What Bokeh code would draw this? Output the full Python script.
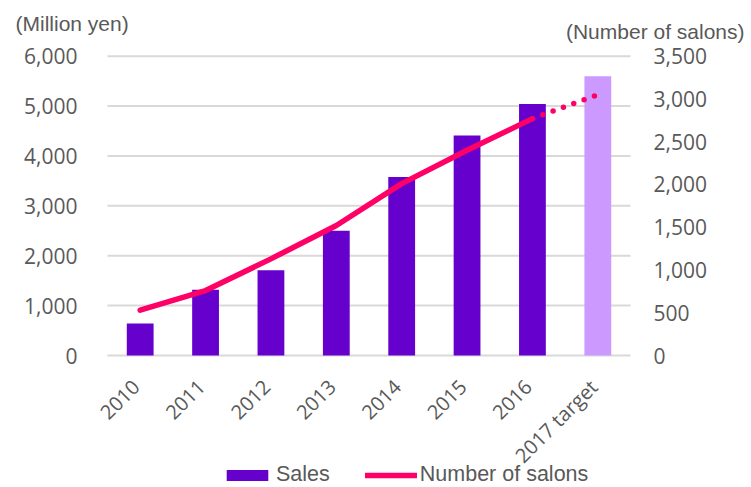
from math import pi
from bokeh.plotting import figure
from bokeh.models import (ColumnDataSource, Range1d, Label, Legend, LegendItem)
from bokeh.embed import file_html
from bokeh.resources import INLINE

# ---- data ----
years = ["2010", "2011", "2012", "2013", "2014", "2015", "2016", "2017 target"]
sales = [640, 1320, 1710, 2500, 3580, 4410, 5040, 5600]          # million yen
salons = [530, 760, 1130, 1520, 2010, 2400, 2770, 3050]          # number of salons
left_ticks = [0, 1000, 2000, 3000, 4000, 5000, 6000]
right_ticks = [0, 500, 1000, 1500, 2000, 2500, 3000, 3500]
left_unit = "(Million yen)"
right_unit = "(Number of salons)"

# ---- style / layout ----
BAR = "#6600cc"
BAR_TARGET = "#cc99ff"
LINE = "#ff0066"
GREY = "#595959"
GRID = "#d9d9d9"
TICK_FONT = "Open Sans"
LABEL_FONT = "Liberation Sans"

W, H = 751, 487
PX_LEFT, PX_RIGHT = 107, 630      # plot area horizontally
PX_TOP, PX_ZERO = 55.7, 355       # y of the top tick and of zero

n = len(years)
ymax_l, ymax_r = left_ticks[-1], right_ticks[-1]
u_per_px = n / (PX_RIGHT - PX_LEFT)
x_range = Range1d(-PX_LEFT * u_per_px, n + (W - PX_RIGHT) * u_per_px)
l_per_px = ymax_l / (PX_ZERO - PX_TOP)
r_per_px = ymax_r / (PX_ZERO - PX_TOP)
y_range = Range1d(-(H - PX_ZERO) * l_per_px, ymax_l + PX_TOP * l_per_px)

p = figure(width=W, height=H, x_range=x_range, y_range=y_range,
           output_backend="svg", toolbar_location=None, min_border=0,
           x_axis_location=None, y_axis_location=None)
p.extra_y_ranges = {"salons": Range1d(-(H - PX_ZERO) * r_per_px,
                                      ymax_r + PX_TOP * r_per_px)}
p.grid.visible = False
p.outline_line_color = None

centers = [i + 0.5 for i in range(n)]
bar_colors = [BAR_TARGET if "target" in y else BAR for y in years]

# gridlines (value scale)
p.segment(x0=0, x1=n, y0=left_ticks, y1=left_ticks, line_color=GRID, line_width=2)

# bars
bar_src = ColumnDataSource(dict(x=centers, top=sales, color=bar_colors))
bars = p.vbar(x="x", top="top", width=0.41, fill_color="color", line_color=None,
              source=bar_src)

# salons line: actual (solid) and target (dotted)
actual_src = ColumnDataSource(dict(x=centers[:n - 1], y=salons[:n - 1]))
proj_src = ColumnDataSource(dict(x=centers[n - 2:], y=salons[n - 2:]))
line_actual = p.line(x="x", y="y", source=actual_src, line_color=LINE, line_width=5.5,
                     line_cap="round", line_join="round", y_range_name="salons")
p.line(x="x", y="y", source=proj_src, line_color=LINE, line_width=5.5,
       line_cap="round", line_dash="0 11", y_range_name="salons")

# left value axis labels
p.text(x=[0] * len(left_ticks), y=left_ticks, text=[f"{t:,}" for t in left_ticks],
       x_offset=-30, text_align="right", text_baseline="middle",
       text_font={"value": TICK_FONT}, text_font_size={"value": "21px"},
       text_color=GREY)
# right value axis labels
p.text(x=[n] * len(right_ticks), y=right_ticks, text=[f"{t:,}" for t in right_ticks],
       x_offset=23, text_align="left", text_baseline="middle",
       text_font={"value": TICK_FONT}, text_font_size={"value": "21px"},
       text_color=GREY, y_range_name="salons")
# category labels (rotated 45 degrees)
p.text(x=centers, y=[0] * n, text=years, angle=pi / 4, x_offset=-4, y_offset=28,
       text_align="right", text_baseline="middle",
       text_font={"value": TICK_FONT}, text_font_size={"value": "20px"},
       text_color=GREY)

# axis unit captions
p.add_layout(Label(x=15, y=H - 23, x_units="screen", y_units="screen", text=left_unit,
                   text_font=LABEL_FONT, text_font_size="21px", text_color=GREY,
                   text_baseline="middle", text_align="left"))
p.add_layout(Label(x=744, y=H - 31, x_units="screen", y_units="screen", text=right_unit,
                   text_font=LABEL_FONT, text_font_size="21px", text_color=GREY,
                   text_baseline="middle", text_align="right"))

legend = Legend(items=[LegendItem(label="Sales", renderers=[bars], index=0),
                       LegendItem(label="Number of salons", renderers=[line_actual])],
                orientation="horizontal", location=(221, 0),
                border_line_color=None, background_fill_alpha=0, padding=0, margin=0,
                spacing=35, label_standoff=3, glyph_width=52, glyph_height=14,
                label_height=14, label_text_font=LABEL_FONT,
                label_text_font_size="21.5px", label_text_color=GREY)
p.add_layout(legend)

open("out.html", "w").write(file_html(p, INLINE))
